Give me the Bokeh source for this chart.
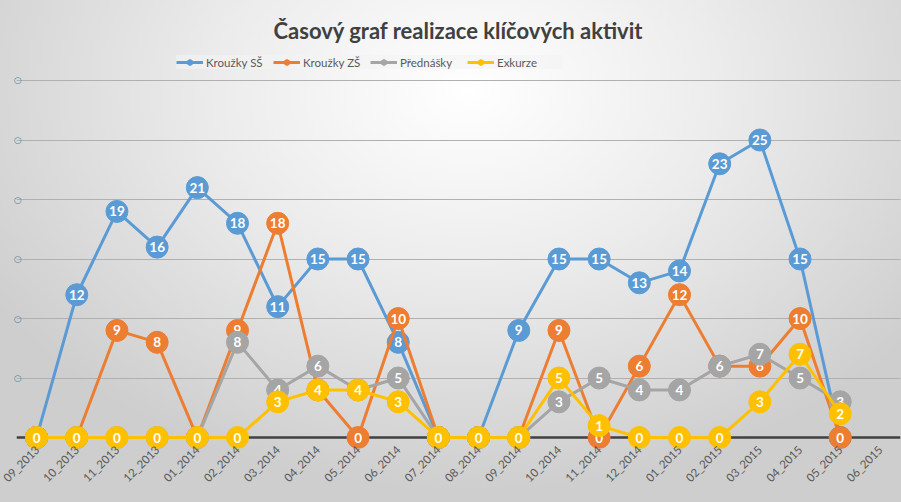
import math
from bokeh.plotting import figure
from bokeh.models import ColumnDataSource, Range1d, FixedTicker, Span, Legend, LegendItem
from bokeh.core.properties import value
from bokeh.embed import file_html
from bokeh.resources import INLINE

months = ["09_2013", "10_2013", "11_2013", "12_2013", "01_2014", "02_2014", "03_2014",
          "04_2014", "05_2014", "06_2014", "07_2014", "08_2014", "09_2014", "10_2014",
          "11_2014", "12_2014", "01_2015", "02_2015", "03_2015", "04_2015", "05_2015",
          "06_2015"]

krouzky_ss = [0, 12, 19, 16, 21, 18, 11, 15, 15, 8, 0, 0, 9, 15, 15, 13, 14, 23, 25, 15, 0]
krouzky_zs = [0, 0, 9, 8, 0, 9, 18, 4, 0, 10, 0, 0, 0, 9, 0, 6, 12, 6, 6, 10, 0]
prednasky = [0, 0, 0, 0, 0, 8, 4, 6, 4, 5, 0, 0, 0, 3, 5, 4, 4, 6, 7, 5, 3]
exkurze = [0, 0, 0, 0, 0, 0, 3, 4, 4, 3, 0, 0, 0, 5, 1, 0, 0, 0, 3, 7, 2]

series_names = ["Kroužky SŠ", "Kroužky ZŠ", "Přednášky", "Exkurze"]
series_values = [krouzky_ss, krouzky_zs, prednasky, exkurze]
series_colors = ["#5B9BD5", "#ED7D31", "#A5A5A5", "#FFC000"]

y_ticks = [0, 5, 10, 15, 20, 25, 30]
y_tick_labels = ["", "○", "○", "○", "○", "○", "○"]

title_text = "Časový graf realizace klíčových aktivit"

p = figure(width=901, height=502, x_range=months, y_range=Range1d(-0.92, 32.52),
           output_backend="svg", toolbar_location=None,
           min_border_left=16, min_border_right=1, min_border_top=50, min_border_bottom=54)

p.title.text = title_text
p.title.align = "center"
p.title.offset = -8
p.title.standoff = 14
p.title.text_font = "Lato"
p.title.text_font_size = "22px"
p.title.text_font_style = "bold"
p.title.text_color = "#404040"

p.background_fill_alpha = 0
p.border_fill_alpha = 0
p.outline_line_color = None
p.styles = {"background": "radial-gradient(ellipse 62% 80% at 52% 18%, #ffffff 0%, #ececec 45%, #cecece 100%)"}

p.xgrid.visible = False
p.ygrid.grid_line_color = "#b0b0b0"
p.ygrid.grid_line_width = 1

p.yaxis.ticker = FixedTicker(ticks=y_ticks)
p.yaxis.major_label_overrides = {t: l for t, l in zip(y_ticks, y_tick_labels)}
p.yaxis.axis_line_color = None
p.yaxis.major_tick_line_color = None
p.yaxis.minor_tick_line_color = None
p.yaxis.major_label_text_color = "#5b7ea0"
p.yaxis.major_label_text_font = "DejaVu Sans"
p.yaxis.major_label_text_font_size = "9px"
p.yaxis.major_label_standoff = -11

p.xaxis.major_label_orientation = math.pi / 4
p.xaxis.axis_line_color = None
p.xaxis.major_tick_line_color = None
p.xaxis.minor_tick_line_color = None
p.xaxis.major_label_text_font = "Lato"
p.xaxis.major_label_text_font_size = "11.5px"
p.xaxis.major_label_text_color = "#595959"
p.xaxis.major_label_standoff = -7

base = Span(location=0, dimension="width", line_color="#404040", line_width=2.5, level="underlay")
p.add_layout(base)

items = []
for name, vals, color in zip(series_names, series_values, series_colors):
    src = ColumnDataSource(dict(x=months[:len(vals)], y=vals, label=[str(v) for v in vals]))
    ln = p.line("x", "y", source=src, line_color=color, line_width=3)
    sc = p.scatter("x", "y", source=src, size=22, fill_color=color, line_color=color)
    p.text("x", "y", text="label", source=src, text_color="white", text_font=value("Lato"),
           text_font_style="bold", text_font_size="13.5px", text_align="center",
           text_baseline="middle")
    items.append(LegendItem(label=name, renderers=[ln, sc]))

legend = Legend(items=items, orientation="horizontal", location=(160, 379),
                label_text_font="Lato", label_text_font_size="11.5px", label_text_color="#595959",
                glyph_width=27, glyph_height=14, label_standoff=3, spacing=1, label_width=66,
                padding=5, margin=0, border_line_color=None,
                background_fill_color="#f4f4f4", background_fill_alpha=0.6)
p.add_layout(legend)

open("out.html", "w").write(file_html(p, INLINE))
